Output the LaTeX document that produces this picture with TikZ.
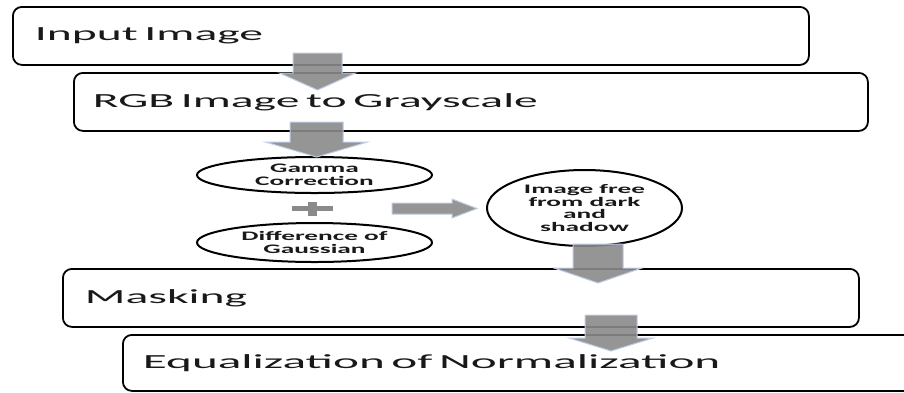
\documentclass[tikz,border=0pt]{standalone}
\usepackage{fontspec}
\setmainfont{Carlito}
\newfontfamily\wideA{Carlito}[FakeStretch=2.38]
\newfontfamily\wideC{Carlito}[FakeStretch=2.46]
\newfontfamily\wideB{Carlito}[FakeStretch=2.1]
\usetikzlibrary{shapes.geometric}
\definecolor{arrowgray}{RGB}{138,138,138}
\definecolor{arrowedge}{RGB}{190,204,228}
\definecolor{txt}{RGB}{25,25,25}
\tikzset{
  procbox/.style={draw=black, line width=1.8pt, rounded corners=9pt, anchor=north west,
    inner xsep=21pt, inner ysep=0pt, align=left, fill=white, text=txt,
    font=\wideA\fontsize{20}{24}\selectfont},
  oval/.style={ellipse, draw=black, line width=2pt, inner sep=0pt, align=center, fill=white, text=txt,
    font=\wideB\bfseries\fontsize{13}{13}\selectfont},
  blockarrow/.style={fill=arrowgray, draw=arrowedge, line width=1pt, fill opacity=0.9},
}
% cx, top, base, tip, half shaft width, half head width
\newcommand\blockdown[6]{%
  \path[blockarrow] (#1-#5,#2) -- (#1+#5,#2) -- (#1+#5,#3) -- (#1+#6,#3) -- (#1,#4)
    -- (#1-#6,#3) -- (#1-#5,#3) -- cycle;}
\begin{document}
\begin{tikzpicture}[x=1pt,y=-1pt]
\clip (0,0) rectangle (904,392);
\fill[white] (0,0) rectangle (904,392);
% process boxes
\node[procbox, inner xsep=22pt, minimum width=796pt, minimum height=58pt, text width=752pt] (in) at (12,6) {Input Image};
\node[procbox, inner xsep=19pt, minimum width=794pt, minimum height=58pt, text width=756pt] (gray) at (73,72) {RGB Image to Grayscale};
\node[procbox, inner xsep=22pt, minimum width=796pt, minimum height=58pt, text width=752pt] (mask) at (62,268) {Masking};
\node[procbox, inner xsep=20pt, minimum width=818pt, minimum height=56pt, text width=778pt, font=\wideC\fontsize{20}{24}\selectfont] (eq) at (122,334) {Equalization of Normalization};
% ellipses
\node[oval, minimum width=235pt, minimum height=36pt] (gc) at (314.5,175) {Gamma\\Correction};
\node[oval, minimum width=235pt, minimum height=39pt] (dog) at (314.5,242.5) {Difference of\\Gaussian};
\node[oval, minimum width=195pt, minimum height=76pt, font=\wideB\bfseries\fontsize{13}{12.5}\selectfont] (free) at (584.5,208) {Image free\\from dark\\and\\shadow};
% plus sign
\fill[arrowgray] (292,206) rectangle (333,211);
\fill[arrowgray] (308,202) rectangle (317,216);
% right arrow
\path[blockarrow] (392,203) -- (452,203) -- (452,199) -- (477,208.5) -- (452,218) -- (452,214) -- (392,214) -- cycle;
% down arrows
\blockdown{317.5}{53}{73}{90}{24.5}{38}
\blockdown{316.5}{122}{142}{157}{26.5}{51}
\blockdown{598}{244}{268}{283}{25}{44}
\blockdown{611}{315}{338}{351}{26}{42}
\end{tikzpicture}
\end{document}
